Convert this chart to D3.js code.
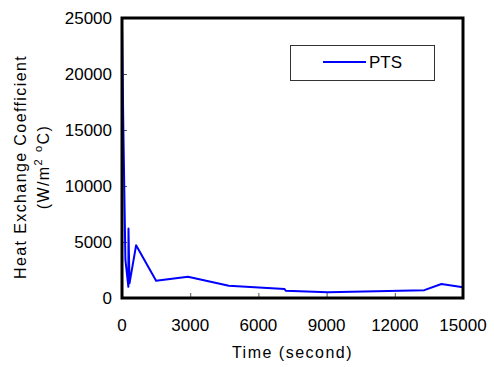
<!DOCTYPE html>
<html>
<head>
<meta charset="utf-8">
<script src="https://cdn.jsdelivr.net/npm/d3@7"></script>
<style>
  html, body { margin: 0; padding: 0; background: #fff; }
  svg text { font-family: "Liberation Sans", Arial, sans-serif; fill: #000; }
</style>
</head>
<body>
<svg id="chart" width="494" height="367"></svg>
<script>
// Heat exchange coefficient over time for the PTS case
const timeSec = [0, 60, 150, 280, 285, 330, 620, 1500, 2900, 4700, 7150, 7200, 9050, 13300, 14050, 15000];
const coeff   = [24600, 15000, 3400, 1000, 6200, 1300, 4700, 1550, 1900, 1100, 800, 650, 520, 700, 1250, 950];
const seriesName = "PTS";
const xTicks = [0, 3000, 6000, 9000, 12000, 15000];
const yTicks = [0, 5000, 10000, 15000, 20000, 25000];

const svg = d3.select("#chart");
const plotL = 122, plotR = 463, plotT = 18, plotB = 298;

const x = d3.scaleLinear().domain([0, 15000]).range([plotL, plotR]);
const y = d3.scaleLinear().domain([0, 25000]).range([plotB, plotT]);

const fontSize = 17;

// inner tick marks
svg.append("g")
  .attr("transform", `translate(0,${plotB})`)
  .call(d3.axisTop(x).tickValues(xTicks).tickSize(5).tickFormat(""))
  .call(g => g.select(".domain").remove())
  .call(g => g.selectAll("line").attr("stroke", "#555"));
svg.append("g")
  .attr("transform", `translate(${plotL},0)`)
  .call(d3.axisRight(y).tickValues(yTicks).tickSize(5).tickFormat(""))
  .call(g => g.select(".domain").remove())
  .call(g => g.selectAll("line").attr("stroke", "#555"));

// tick labels
svg.append("g").selectAll("text").data(xTicks).join("text")
  .attr("x", d => x(d)).attr("y", 331)
  .attr("text-anchor", "middle")
  .style("font-size", fontSize + "px")
  .text(d => d);
svg.append("g").selectAll("text").data(yTicks).join("text")
  .attr("x", 112).attr("y", d => y(d) + 6)
  .attr("text-anchor", "end")
  .style("font-size", fontSize + "px")
  .text(d => d);

// data line
svg.append("path")
  .datum(timeSec.map((t, i) => [t, coeff[i]]))
  .attr("fill", "none")
  .attr("stroke", "#0000ff")
  .attr("stroke-width", 2)
  .attr("stroke-linejoin", "round")
  .attr("d", d3.line().x(d => x(d[0])).y(d => y(d[1])));

// plot frame
svg.append("rect")
  .attr("x", plotL).attr("y", plotT)
  .attr("width", plotR - plotL).attr("height", plotB - plotT)
  .attr("fill", "none").attr("stroke", "#000").attr("stroke-width", 3);

// legend
const lg = svg.append("g");
lg.append("rect").attr("x", 290.5).attr("y", 45.5).attr("width", 144).attr("height", 35)
  .attr("fill", "#fff").attr("stroke", "#333").attr("stroke-width", 1);
lg.append("line").attr("x1", 323).attr("x2", 366).attr("y1", 62).attr("y2", 62)
  .attr("stroke", "#0000ff").attr("stroke-width", 2);
lg.append("text").attr("x", 369).attr("y", 68)
  .style("font-size", fontSize + "px").text(seriesName);

// axis titles
svg.append("text")
  .attr("x", (plotL + plotR) / 2).attr("y", 358)
  .attr("text-anchor", "middle")
  .style("font-size", "16px").style("letter-spacing", "1.5px")
  .text("Time (second)");

const yt = svg.append("text")
  .attr("transform", "translate(0,167) rotate(-90)")
  .attr("text-anchor", "middle")
  .style("font-size", "16px").style("letter-spacing", "1.4px");
yt.append("tspan").attr("x", 0).attr("y", 26).text("Heat Exchange Coefficient");
yt.append("tspan").attr("x", 0).attr("y", 49).text("(W/m");
yt.append("tspan").attr("dy", -7).style("font-size", "11px").text("2");
yt.append("tspan").attr("dy", 7).text(" ");
yt.append("tspan").attr("dy", -7).style("font-size", "11px").text("o");
yt.append("tspan").attr("dy", 7).text("C)");
</script>
</body>
</html>
